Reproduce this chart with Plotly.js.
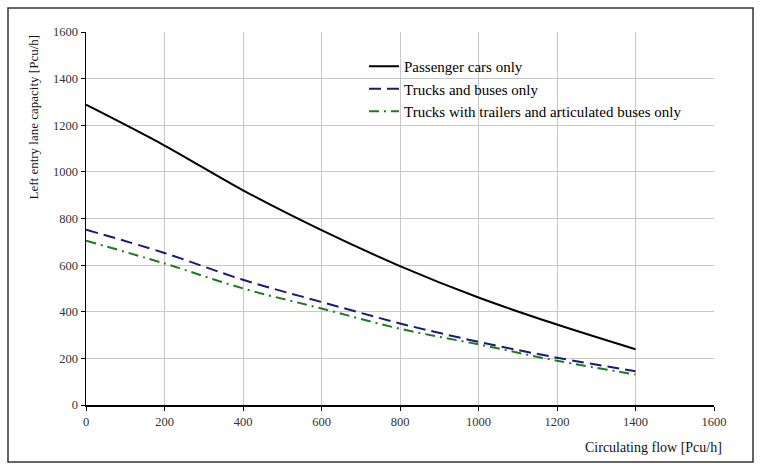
<!DOCTYPE html>
<html>
<head>
<meta charset="utf-8">
<script src="https://cdn.plot.ly/plotly-3.0.1.min.js"></script>
<style>html,body{margin:0;padding:0;background:#fff;}#chart{width:765px;height:471px;}</style>
</head>
<body>
<div id="chart"></div>
<script>
var circulatingFlow = [0, 200, 400, 600, 800, 1000, 1200, 1400];
var passengerCars = [1288, 1113, 921, 750, 596, 461, 345, 239];
var trucksBuses = [752, 652, 537, 442, 350, 271, 203, 145];
var trucksTrailers = [705, 607, 500, 414, 327, 260, 190, 131];
var seriesNames = ["Passenger cars only", "Trucks and buses only", "Trucks with trailers and articulated buses only"];
var tickVals = [0, 200, 400, 600, 800, 1000, 1200, 1400, 1600];

var serif = "Liberation Serif, Times New Roman, serif";
var traces = [
  {x: circulatingFlow, y: passengerCars, name: seriesNames[0], mode: "lines",
   line: {color: "#000000", width: 2, shape: "spline"}},
  {x: circulatingFlow, y: trucksBuses, name: seriesNames[1], mode: "lines",
   line: {color: "#1a1a7a", width: 2, dash: "12px,6px", shape: "spline"}},
  {x: circulatingFlow, y: trucksTrailers, name: seriesNames[2], mode: "lines",
   line: {color: "#1f7a1f", width: 2, dash: "10px,5px,2px,5px", shape: "spline"}}
];

var L = 86, R = 714, T = 32, B = 405, W = R - L, H = B - T;
function px(xp){ return (xp - L) / W; }
function py(yp){ return (B - yp) / H; }

var layout = {
  width: 765, height: 471,
  margin: {l: L, r: 765 - R, t: T, b: 471 - B},
  paper_bgcolor: "#ffffff", plot_bgcolor: "#ffffff",
  font: {family: serif, color: "#222222", size: 12},
  showlegend: true,
  legend: {x: px(364), y: py(50), xanchor: "left", yanchor: "top",
    bgcolor: "rgba(0,0,0,0)", font: {family: serif, size: 15, color: "#000"}, tracegroupgap: 0},
  xaxis: {range: [0, 1600], tickvals: tickVals, showgrid: true, gridcolor: "#c8c8c8", gridwidth: 1,
    showline: true, linecolor: "#000", linewidth: 1.5, ticks: "outside", ticklen: 4, tickcolor: "#000",
    zeroline: false, tickfont: {family: serif, size: 12.5, color: "#333"}, fixedrange: true},
  yaxis: {range: [0, 1600], tickvals: tickVals, showgrid: true, gridcolor: "#c8c8c8", gridwidth: 1,
    showline: true, linecolor: "#000", linewidth: 1.5, ticks: "outside", ticklen: 4, tickcolor: "#000",
    zeroline: false, tickfont: {family: serif, size: 12.5, color: "#333"}, fixedrange: true},
  annotations: [
    {text: "Left entry lane capacity [Pcu/h]", textangle: -90, xref: "paper", yref: "paper",
     x: px(33), y: py(33), xanchor: "center", yanchor: "top", showarrow: false,
     font: {family: serif, size: 13, color: "#111"}},
    {text: "Circulating flow [Pcu/h]", xref: "paper", yref: "paper",
     x: px(724), y: py(447), xanchor: "right", yanchor: "middle", showarrow: false,
     font: {family: serif, size: 14, color: "#111"}}
  ],
  shapes: [
    {type: "rect", xref: "paper", yref: "paper", x0: px(8), x1: px(753), y0: py(8), y1: py(462),
     line: {color: "#333", width: 1.5}, fillcolor: "rgba(0,0,0,0)", layer: "below"}
  ]
};
Plotly.newPlot("chart", traces, layout, {displayModeBar: false, staticPlot: true});
</script>
</body>
</html>
